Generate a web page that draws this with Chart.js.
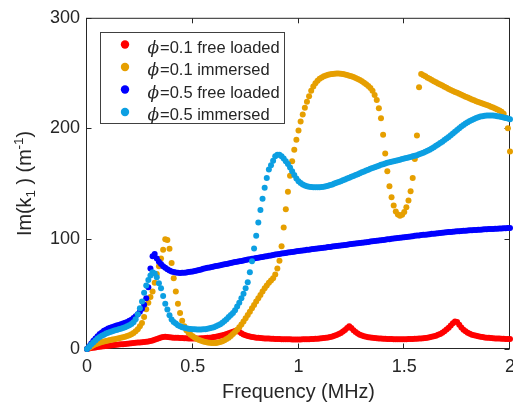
<!DOCTYPE html>
<html>
<head>
<meta charset="utf-8">
<script src="https://cdn.jsdelivr.net/npm/chart.js@4.4.0/dist/chart.umd.min.js"></script>
<style>
html, body { margin: 0; padding: 0; background: #fff; }
#wrap { width: 513px; height: 406px; }
</style>
</head>
<body>
<div id="wrap"><canvas id="myChart" width="513" height="406"></canvas></div>
<script>
// frequency grid (MHz)
const freq = [
  0,0.01,0.02,0.03,0.04,0.05,0.06,0.07,0.08,0.09,
  0.1,0.11,0.12,0.13,0.14,0.15,0.16,0.17,0.18,0.19,
  0.2,0.21,0.22,0.23,0.24,0.25,0.26,0.27,0.28,0.29,
  0.3,0.31,0.32,0.33,0.34,0.35,0.36,0.37,0.38,0.39,
  0.4,0.41,0.42,0.43,0.44,0.45,0.46,0.47,0.48,0.49,
  0.5,0.51,0.52,0.53,0.54,0.55,0.56,0.57,0.58,0.59,
  0.6,0.61,0.62,0.63,0.64,0.65,0.66,0.67,0.68,0.69,
  0.7,0.71,0.72,0.73,0.74,0.75,0.76,0.77,0.78,0.79,
  0.8,0.81,0.82,0.83,0.84,0.85,0.86,0.87,0.88,0.89,
  0.9,0.91,0.92,0.93,0.94,0.95,0.96,0.97,0.98,0.99,
  1,1.01,1.02,1.03,1.04,1.05,1.06,1.07,1.08,1.09,
  1.1,1.11,1.12,1.13,1.14,1.15,1.16,1.17,1.18,1.19,
  1.2,1.21,1.22,1.23,1.24,1.25,1.26,1.27,1.28,1.29,
  1.3,1.31,1.32,1.33,1.34,1.35,1.36,1.37,1.38,1.39,
  1.4,1.41,1.42,1.43,1.44,1.45,1.46,1.47,1.48,1.49,
  1.5,1.51,1.52,1.53,1.54,1.55,1.56,1.57,1.58,1.59,
  1.6,1.61,1.62,1.63,1.64,1.65,1.66,1.67,1.68,1.69,
  1.7,1.71,1.72,1.73,1.74,1.75,1.76,1.77,1.78,1.79,
  1.8,1.81,1.82,1.83,1.84,1.85,1.86,1.87,1.88,1.89,
  1.9,1.91,1.92,1.93,1.94,1.95,1.96,1.97,1.98,1.99,
  2
]

// Im(k1) in 1/m, one value per frequency
const phi01Free = [
  0,0.4,0.8,1.1,1.4,1.7,2,2.3,2.5,2.8,
  3,3.2,3.4,3.6,3.8,4,4.2,4.4,4.6,4.8,
  5,5.2,5.4,5.6,5.8,6,6.2,6.4,6.6,6.9,
  7.2,7.7,8.3,9,9.8,10.5,10.9,11,10.9,10.7,
  10.5,10.3,10.2,10.1,10,9.9,9.8,9.7,9.6,9.5,
  9.5,9.5,9.5,9.6,9.7,9.8,9.9,10.1,10.3,10.5,
  10.8,11.1,11.5,11.9,12.4,13,13.6,14.3,15,15.7,
  16.3,16.5,15.6,14.3,13.2,12.4,11.8,11.3,10.9,10.6,
  10.3,10.1,9.9,9.7,9.6,9.5,9.4,9.3,9.2,9.1,
  9,9,8.9,8.9,8.8,8.8,8.8,8.7,8.7,8.7,
  8.7,8.7,8.8,8.8,8.9,8.9,9,9.1,9.2,9.3,
  9.5,9.7,9.9,10.2,10.5,10.9,11.4,12,12.7,13.6,
  14.6,15.8,17.3,19,20.5,19,17,15.3,14,13,
  12.2,11.6,11.1,10.7,10.4,10.1,9.9,9.7,9.5,9.4,
  9.3,9.2,9.1,9,9,8.9,8.9,8.9,8.9,8.9,
  8.9,8.9,9,9,9.1,9.2,9.3,9.4,9.6,9.8,
  10,10.3,10.6,11,11.5,12.1,12.8,13.7,14.8,16.1,
  17.6,19.3,21.3,23.4,25,24.5,22,19.5,17.5,16,
  14.8,13.8,13,12.4,11.9,11.5,11.1,10.8,10.5,10.3,
  10.1,9.9,9.8,9.6,9.5,9.4,9.3,9.2,9.1,9,
  9
]

const phi01Immersed = [
  0,1.2,2.3,3.3,4.2,5,5.7,6.3,6.8,7.3,
  7.7,8.1,8.5,8.9,9.3,9.7,10.1,10.6,11.1,11.7,
  12.4,13.3,14.5,16,18,20.5,23.5,29,36,42,
  47,52,60,68,75,82,90,99.5,98.8,90.7,
  78,64,52,41,32.5,25.5,20.5,17,14.8,13,
  11.5,10.2,9.1,8.2,7.5,6.9,6.4,6,5.7,5.5,
  5.4,5.5,5.8,6.3,7,7.9,9,10.3,11.8,13.5,
  15.4,17.5,19.8,22.3,25,27.8,30.7,33.7,36.8,39.9,
  43,46,49,52,55,57.6,60,62,64,67.5,
  73,80,93,110,126.5,142.5,157,170,180.5,189.5,
  198,206,212.5,218.5,224,229,234,237.8,240.8,243,
  244.8,246,247,247.8,248.4,248.9,249.2,249.4,249.5,249.5,
  249.3,249,248.6,248.1,247.6,247,246.3,245.5,244.6,243.6,
  242.5,241.2,239.8,238.2,236.4,234,230,225.5,218,209,
  194,177,161,147.5,137.5,130,124.5,121.8,120.7,121.5,
  124,128.5,134.5,143,155,172,193.5,237,249,248,
  247,245.8,244.7,243.6,242.6,241.6,240.6,239.6,238.6,237.6,
  236.6,235.6,234.7,233.8,232.9,232,231.1,230.2,229.3,228.5,
  227.7,226.9,226.1,225.3,224.5,223.8,223.1,222.4,221.7,221,
  220.3,219.5,218.7,217.9,217,216,214.8,213,209.5,200,
  179
]

const phi05Free = [
  0,2.5,5,7.5,9.5,11.5,13.5,15,16.5,17.5,
  18.5,19.3,20,20.6,21.2,21.8,22.4,23,23.7,24.5,
  25.5,26.6,28,29.6,31.5,33.8,36.5,40,46,56,
  73,84,86,82,79,77,75,73.5,72.2,71.2,
  70.3,69.7,69.2,69,68.9,69,69.1,69.4,69.7,70,
  70.3,70.7,71.1,71.6,72.1,72.6,73.1,73.5,73.9,74.3,
  74.7,75.1,75.5,75.9,76.3,76.7,77.1,77.5,77.9,78.3,
  78.7,79.1,79.5,79.8,80.2,80.6,81,81.3,81.7,82,
  82.4,82.7,83.1,83.4,83.8,84.1,84.5,84.8,85.1,85.5,
  85.8,86.1,86.4,86.7,87,87.3,87.6,87.9,88.2,88.5,
  88.8,89,89.3,89.5,89.8,90,90.3,90.5,90.8,91,
  91.3,91.5,91.8,92,92.3,92.5,92.8,93,93.3,93.5,
  93.8,94,94.3,94.5,94.8,95,95.3,95.5,95.8,96,
  96.3,96.5,96.8,97,97.3,97.5,97.8,98,98.3,98.5,
  98.8,99,99.3,99.5,99.8,100,100.3,100.5,100.8,101,
  101.2,101.5,101.7,102,102.2,102.5,102.7,102.9,103.2,103.4,
  103.6,103.8,104,104.3,104.5,104.7,104.9,105.1,105.3,105.5,
  105.7,105.9,106,106.2,106.4,106.6,106.7,106.9,107,107.2,
  107.3,107.5,107.6,107.7,107.9,108,108.1,108.2,108.4,108.5,
  108.6,108.7,108.8,108.9,109,109.1,109.2,109.3,109.4,109.5,
  109.6
]

const phi05Immersed = [
  0,2,4,6,7.8,9.4,10.8,12,13,14,
  14.8,15.5,16.1,16.7,17.2,17.8,18.4,19,19.7,20.5,
  21.5,22.7,24.3,27,31.5,37,43,51,57.5,62.5,
  66.5,69.5,68.5,65,59.5,55,48,41,35.7,30.6,
  26.8,24.5,23,21.5,20.5,19.8,19.2,18.8,18.4,18.1,
  17.9,17.8,17.7,17.7,17.7,17.8,18,18.3,18.7,19.2,
  19.8,20.5,21.4,22.5,23.8,25.3,27,29,30.7,32.5,
  35,38.5,42,46,50,55,60.5,69.5,79.5,91,
  102.5,114.5,126,136,146,155,162.5,166.5,170.5,174.5,
  176,176,174.5,172.5,170,167.5,164.5,161,157.5,154.5,
  152,150.3,149,148,147.4,147,146.7,146.5,146.4,146.4,
  146.5,146.7,147,147.4,147.9,148.5,149.1,149.8,150.5,151.2,
  152,152.8,153.6,154.4,155.2,156,156.8,157.6,158.4,159.2,
  160,160.8,161.6,162.4,163.2,164,164.7,165.4,166.1,166.8,
  167.4,168,168.6,169.1,169.6,170.1,170.6,171,171.5,172,
  172.5,173,173.5,174,174.5,175,175.6,176.3,177,177.8,
  178.6,179.5,180.5,181.6,182.8,184,185.2,186.5,187.8,189.2,
  190.6,192.1,193.6,195.2,196.8,198.4,200,201.5,202.9,204.2,
  205.4,206.5,207.5,208.4,209.2,209.9,210.5,210.9,211.2,211.4,
  211.5,211.5,211.4,211.2,210.9,210.6,210.2,209.8,209.3,208.8,
  208.2
]

const seriesLabels = ['=0.1 free loaded', '=0.1 immersed', '=0.5 free loaded', '=0.5 immersed']
const seriesColors = ['#FF0000', '#E69F00', '#0000FF', '#0C9FE2']
const xTicks = [0, 0.5, 1, 1.5, 2]
const yTicks = [0, 100, 200, 300]

const axisColor = '#262626'
const sans = "'Liberation Sans', Arial, sans-serif"

const allSeries = [phi01Free, phi01Immersed, phi05Free, phi05Immersed]
const datasets = allSeries.map((vals, i) => ({
    label: seriesLabels[i],
    data: freq.map((f, j) => ({ x: f, y: vals[j] })),
    showLine: false,
    pointRadius: 3,
    pointBorderWidth: 0,
    pointBackgroundColor: seriesColors[i],
    pointBorderColor: seriesColors[i],
    pointHoverRadius: 3,
    clip: false,
    order: 4 - i
}))

// box, inward ticks and axis titles, matlab style
const frame = {
    id: 'frame',
    beforeDatasetsDraw(chart) {
        const { ctx, chartArea: a, scales } = chart
        const L = a.left - 0.5, R = a.right - 0.5, T = a.top + 0.5, B = a.bottom - 0.5
        ctx.save()
        ctx.strokeStyle = axisColor
        ctx.lineWidth = 1
        ctx.strokeRect(L, T, R - L, B - T)
        ctx.beginPath()
        for (const v of xTicks) {
            const px = Math.round(scales.x.getPixelForValue(v)) - 0.5
            ctx.moveTo(px, B); ctx.lineTo(px, B - 5)
            ctx.moveTo(px, T); ctx.lineTo(px, T + 5)
        }
        for (const v of yTicks) {
            const py = Math.round(scales.y.getPixelForValue(v)) + 0.5
            ctx.moveTo(L, py); ctx.lineTo(L + 5, py)
            ctx.moveTo(R, py); ctx.lineTo(R - 5, py)
        }
        ctx.stroke()

        ctx.fillStyle = axisColor
        ctx.font = '19.8px ' + sans
        ctx.textAlign = 'center'
        ctx.textBaseline = 'alphabetic'
        ctx.fillText('Frequency (MHz)', (a.left + a.right) / 2, 398)

        // y title with subscript / superscript
        const parts = [['Im(k', 0, 19.8], ['1', 4, 13.5], [' ) (m', 0, 19.8], ['-1', -8, 13.5], [')', 0, 19.8]]
        let total = 0
        for (const p of parts) { ctx.font = p[2] + 'px ' + sans; total += ctx.measureText(p[0]).width }
        ctx.translate(31, (a.top + a.bottom) / 2)
        ctx.rotate(-Math.PI / 2)
        ctx.textAlign = 'left'
        let cx = -total / 2
        for (const p of parts) {
            ctx.font = p[2] + 'px ' + sans
            ctx.fillText(p[0], cx, p[1])
            cx += ctx.measureText(p[0]).width
        }
        ctx.restore()
    }
}

const boxLegend = {
    id: 'boxLegend',
    afterDatasetsDraw(chart) {
        const ctx = chart.ctx
        ctx.save()
        ctx.fillStyle = '#fff'
        ctx.fillRect(100.5, 32.5, 184, 91)
        ctx.strokeStyle = '#404040'
        ctx.lineWidth = 1
        ctx.strokeRect(100.5, 32.5, 184, 91)
        const rows = [44.5, 67, 89.5, 112]
        rows.forEach((ry, i) => {
            ctx.fillStyle = seriesColors[i]
            ctx.beginPath()
            ctx.arc(125, ry, 4.2, 0, Math.PI * 2)
            ctx.fill()
            ctx.fillStyle = axisColor
            ctx.textBaseline = 'alphabetic'
            ctx.textAlign = 'left'
            ctx.font = "italic 17px 'DejaVu Serif', serif"
            ctx.fillText('\u03D5', 147.5, ry + 8.3)
            ctx.font = '16.5px ' + sans
            ctx.fillText(seriesLabels[i], 160, ry + 8.3)
        })
        ctx.restore()
    }
}

const ctx = document.getElementById('myChart').getContext('2d')
const myChart = new Chart(ctx, {
    type: 'scatter',
    data: { datasets: datasets },
    options: {
        responsive: false,
        animation: false,
        devicePixelRatio: 1,
        layout: { padding: { top: 16, right: 1, left: 0, bottom: 0 } },
        plugins: { legend: { display: false }, tooltip: { enabled: false } },
        scales: {
            x: {
                type: 'linear',
                min: 0,
                max: 2,
                afterBuildTicks: s => { s.ticks = xTicks.map(v => ({ value: v })) },
                afterFit: s => { s.height = 57; s.paddingLeft = 0; s.paddingRight = 0 },
                grid: { display: false, drawTicks: false },
                border: { display: false },
                ticks: {
                    padding: 7,
                    color: axisColor,
                    font: { family: sans, size: 18 },
                    callback: v => String(v)
                }
            },
            y: {
                min: 0,
                max: 300,
                afterBuildTicks: s => { s.ticks = yTicks.map(v => ({ value: v })) },
                afterFit: s => { s.width = 87 },
                grid: { display: false, drawTicks: false },
                border: { display: false },
                ticks: {
                    padding: 7,
                    color: axisColor,
                    font: { family: sans, size: 18 }
                }
            }
        }
    },
    plugins: [frame, boxLegend]
})
</script>
</body>
</html>
